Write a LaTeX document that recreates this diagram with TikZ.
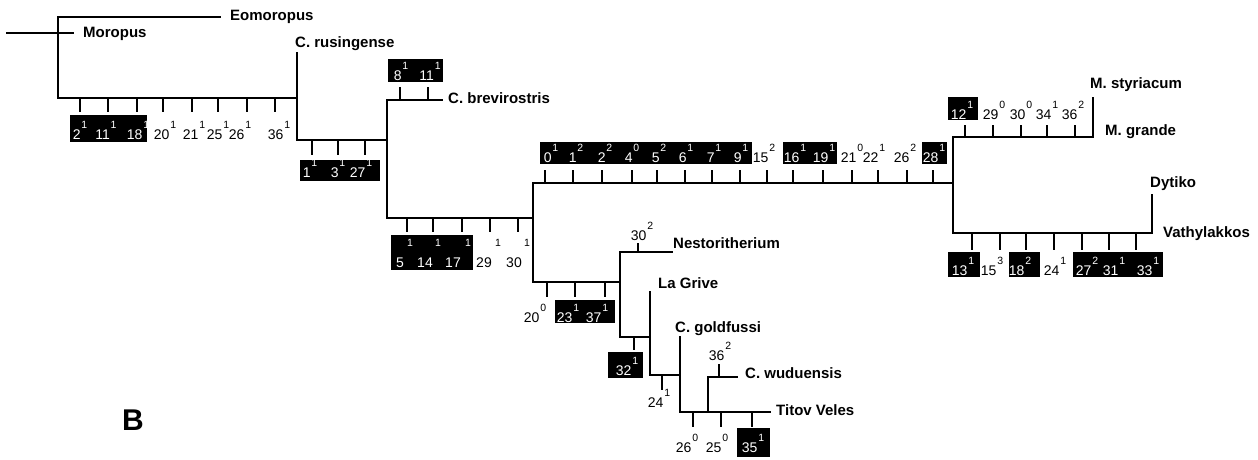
\documentclass[tikz,border=0pt]{standalone}
\usepackage{fontspec}
\setmainfont{Liberation Sans}
\usetikzlibrary{calc}
\tikzstyle{branch} = [line width=2.6pt, line cap=rect]
\tikzstyle{tick} = [line width=2.2pt]
\tikzstyle{taxon} = [anchor=base west, inner sep=0pt, font=\fontsize{15}{17}\selectfont\bfseries]
\tikzstyle{chr} = [anchor=base, inner sep=0pt, font=\fontsize{14}{16}\selectfont]
\tikzstyle{chrbox} = [fill=black]
\newcommand{\chst}[2]{#1\kern0.8pt\raisebox{10.5pt}{\fontsize{10.5}{11}\selectfont #2}}

\begin{document}
\begin{tikzpicture}[x=1pt, y=-1pt]
\useasboundingbox (0,0) rectangle (1258,459);

% Tips
\coordinate (root) at (7,33);
\coordinate (tMoro) at (73,33);
\coordinate (tEomo) at (220,17);
\coordinate (tRusi) at (297,53);
\coordinate (tBrev) at (442,100);
\coordinate (tStyr) at (1093,98);
\coordinate (tGran) at (1093,137);
\coordinate (tDyti) at (1152,195);
\coordinate (tNest) at (672,252);
\coordinate (tLaGr) at (650,292);
\coordinate (tGold) at (680,337);
\coordinate (tWudu) at (737,377);
\coordinate (tTito) at (770,412);

% Junctions
\coordinate (j1) at (58,98);
\coordinate (j2) at (297,98);
\coordinate (j3) at (387,140);
\coordinate (j4) at (387,218);
\coordinate (j5) at (533,218);
\coordinate (j6) at (953,183);
\coordinate (j7) at (533,282);
\coordinate (j8) at (953,233);
\coordinate (j9) at (620,282);
\coordinate (j10) at (620,337);
\coordinate (j11) at (680,375);
\coordinate (j12) at (708,412);

% Branches
\draw[branch] (root) -- (tMoro);
\draw[branch] (tEomo) -| (j1) -- (j2);
\draw[branch] (tRusi) |- (j3);
\draw[branch] (tBrev) -| (j4) -- (j5);
\draw[branch] (j7) |- (j6);
\draw[branch] (tStyr) -- (tGran) -| (j8) -| (tDyti);
\draw[branch] (j7) -- (j9);
\draw[branch] (tNest) -| (j10) -| (tLaGr);
\draw[branch] (tLaGr) |- (j11);
\draw[branch] (tGold) |- (tTito);
\draw[branch] (tWudu) -| (j12);

% Character boxes
\fill[chrbox] (70,115) rectangle (147,142);
\fill[chrbox] (300,160) rectangle (380,181);
\fill[chrbox] (388,59) rectangle (443,82);
\fill[chrbox] (391,235) rectangle (473,270);
\fill[chrbox] (540,142) rectangle (752,164);
\fill[chrbox] (783,142) rectangle (837,164);
\fill[chrbox] (922,142) rectangle (947,164);
\fill[chrbox] (948,97) rectangle (978,120);
\fill[chrbox] (948,252) rectangle (980,277);
\fill[chrbox] (1009,252) rectangle (1040,277);
\fill[chrbox] (1073,252) rectangle (1163,277);
\fill[chrbox] (555,300) rectangle (615,323);
\fill[chrbox] (608,352) rectangle (643,378);
\fill[chrbox] (737,428) rectangle (770,457);

% Characters
\foreach \t/\l/\n/\s/\c [count=\i] in {80/80/2/1/white, 108/106/11/1/white,
    137/138/18/1/white, 163/165/20/1/black, 192/194/21/1/black,
    218/218/25/1/black, 247/240/26/1/black, 275/279/36/1/black} {
  \draw[tick] (\t,98) -- (\t,112);
  \node[chr, text=\c] (a\i) at (\l,139) {\chst{\n}{\s}};
}
\foreach \t/\l/\n/\s [count=\i] in {312/310/1/1, 338/338/3/1, 365/361/27/1} {
  \draw[tick] (\t,140) -- (\t,155);
  \node[chr, text=white] (b\i) at (\l,177) {\chst{\n}{\s}};
}
\foreach \t/\l/\n/\s [count=\i] in {400/401/8/1, 428/430/11/1} {
  \draw[tick] (\t,100) -- (\t,87);
  \node[chr, text=white] (c\i) at (\l,80) {\chst{\n}{\s}};
}
\foreach \t/\l/\u/\n/\c [count=\i] in {407/400/410/5/white, 433/425/438/14/white,
    462/453/468/17/white, 490/484/498/29/black, 518/514/527/30/black} {
  \draw[tick] (\t,218) -- (\t,232);
  \node[chr, text=\c] (d\i) at (\l,267) {\n};
  \node[chr, text=\c, font=\fontsize{10.5}{11}\selectfont] (ds\i) at (\u,246) {1};
}
\foreach \t/\l/\n/\s/\c [count=\i] in {545/551/0/1/white, 573/576/1/2/white,
    602/605/2/2/white, 632/632/4/0/white, 657/659/5/2/white, 685/686/6/1/white,
    712/714/7/1/white, 740/741/9/1/white, 767/764/15/2/black, 793/795/16/1/white,
    823/824/19/1/white, 852/852/21/0/black, 878/874/22/1/black,
    907/905/26/2/black, 933/934/28/1/white} {
  \draw[tick] (\t,183) -- (\t,170);
  \node[chr, text=\c] (e\i) at (\l,162) {\chst{\n}{\s}};
}
\foreach \t/\l/\n/\s/\c [count=\i] in {965/962/12/1/white, 993/994/29/0/black,
    1021/1021/30/0/black, 1047/1047/34/1/black, 1075/1073/36/2/black} {
  \draw[tick] (\t,137) -- (\t,125);
  \node[chr, text=\c] (f\i) at (\l,119) {\chst{\n}{\s}};
}
\foreach \t/\l/\n/\s/\c [count=\i] in {972/963/13/1/white, 1000/992/15/3/black,
    1026/1020/18/2/white, 1054/1055/24/1/black, 1082/1087/27/2/white,
    1109/1114/31/1/white, 1136/1148/33/1/white} {
  \draw[tick] (\t,233) -- (\t,250);
  \node[chr, text=\c] (g\i) at (\l,275) {\chst{\n}{\s}};
}
\foreach \t/\l/\n/\s/\c [count=\i] in {547/535/20/0/black, 575/568/23/1/white,
    605/597/37/1/white} {
  \draw[tick] (\t,282) -- (\t,297);
  \node[chr, text=\c] (h\i) at (\l,322) {\chst{\n}{\s}};
}
\foreach \t/\l/\n/\s/\c [count=\i] in {693/687/26/0/black, 721/717/25/0/black,
    752/753/35/1/white} {
  \draw[tick] (\t,412) -- (\t,427);
  \node[chr, text=\c] (k\i) at (\l,452) {\chst{\n}{\s}};
}
\draw[tick] (638,252) -- (638,243);
\node[chr] (m1) at (642,240) {\chst{30}{2}};
\draw[tick] (634,337) -- (634,350);
\node[chr, text=white] (m2) at (627,375) {\chst{32}{1}};
\draw[tick] (662,375) -- (662,390);
\node[chr] (m3) at (659,407) {\chst{24}{1}};
\draw[tick] (719,377) -- (719,364);
\node[chr] (m4) at (720,360) {\chst{36}{2}};

% Taxa
\node[taxon] (Eomo) at (230,20) {Eomoropus};
\node[taxon] (Moro) at (83,37) {Moropus};
\node[taxon] (Rusi) at (295,47) {C. rusingense};
\node[taxon] (Brev) at (448,103) {C. brevirostris};
\node[taxon] (Styr) at (1090,88) {M. styriacum};
\node[taxon] (Gran) at (1105,135) {M. grande};
\node[taxon] (Dyti) at (1150,187) {Dytiko};
\node[taxon] (Vath) at (1163,237) {Vathylakkos};
\node[taxon] (Nest) at (673,248) {Nestoritherium};
\node[taxon] (LaGr) at (658,288) {La Grive};
\node[taxon] (Gold) at (675,332) {C. goldfussi};
\node[taxon] (Wudu) at (745,378) {C. wuduensis};
\node[taxon] (Tito) at (776,415) {Titov Veles};

% Panel letter
\node[taxon, font=\fontsize{30}{32}\selectfont\bfseries] (panel) at (122,430) {B};

\end{tikzpicture}
\end{document}
